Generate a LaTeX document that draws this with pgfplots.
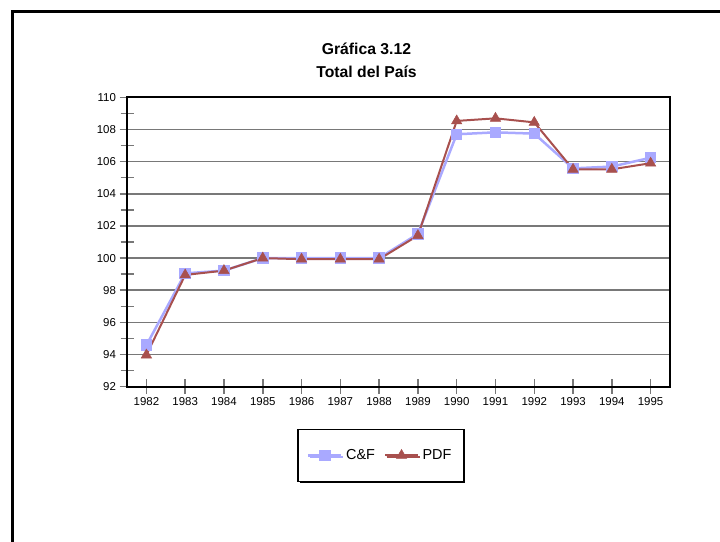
\documentclass[border=0pt]{standalone}
\usepackage{fontspec}
\setmainfont{Liberation Sans}
\usepackage{pgfplots}
\pgfplotsset{compat=1.18}
\usetikzlibrary{shadows}
\definecolor{cfcol}{RGB}{169,169,255}
\definecolor{pdfcol}{RGB}{168,80,78}
\definecolor{gridgray}{RGB}{120,120,120}
\begin{document}
\begin{tikzpicture}[x=1bp,y=1bp]
\useasboundingbox (0,0) rectangle (720,542);
\draw[line width=3bp,black] (12.5,-5) -- (12.5,530.5) -- (730,530.5);
\node[anchor=base,font=\fontsize{15.8}{18}\selectfont\bfseries] at (366.5,487) {Gráfica 3.12};
\node[anchor=base,font=\fontsize{15.8}{18}\selectfont\bfseries] at (366.5,464.3) {Total del País};
\begin{axis}[
  at={(127bp,155.3bp)}, anchor=south west,
  scale only axis, width=543bp, height=289.4bp,
  xmin=-0.5, xmax=13.5, ymin=92, ymax=110,
  xtick={0,1,...,13},
  xticklabels={1982,1983,1984,1985,1986,1987,1988,1989,1990,1991,1992,1993,1994,1995},
  ytick={92,94,...,110},
  minor y tick num=1,
  tick pos=left,
  ymajorgrids,
  major grid style={gridgray, line width=1.6bp},
  tick align=center,
  major tick length=15bp, minor tick length=13bp,
  tick style={gridgray, line width=1.5bp},
  axis line style={black, line width=1.8bp},
  ticklabel style={font=\fontsize{11.5}{13}\selectfont},
  /pgf/number format/assume math mode=true,
  /pgf/number format/1000 sep={},
  legend columns=2,
  legend style={at={(0.4678,-0.2377)}, anchor=center,
    draw=black, line width=1.3bp, fill=white,
    drop shadow={shadow xshift=1.5bp, shadow yshift=-1.5bp, opacity=1, fill=black},
    inner xsep=9bp, inner ysep=17bp,
    font=\fontsize{14.5}{16}\selectfont,
    nodes={inner sep=3.5bp},
    /tikz/every even column/.append style={column sep=5.5bp}},
  legend image code/.code={\draw[mark repeat=2,mark phase=2] plot coordinates {(0bp,0bp)(16.5bp,0bp)(33bp,0bp)};},
]
\addplot[cfcol, line width=2.5bp, mark=square*, mark size=4.5bp, mark options={solid,fill=cfcol,draw=cfcol}] coordinates {
(0,94.58) (1,99.05) (2,99.22) (3,100.0) (4,100.0) (5,100.0) (6,100.0) (7,101.5) (8,107.7) (9,107.82) (10,107.74) (11,105.58) (12,105.69) (13,106.24)};
\addlegendentry{C\&F}
\addplot[pdfcol, line width=2bp, mark=triangle*, mark size=6bp, mark options={solid,fill=pdfcol,draw=pdfcol,line width=0.5bp}] coordinates {
(0,93.97) (1,98.95) (2,99.22) (3,100.0) (4,99.93) (5,99.93) (6,99.93) (7,101.4) (8,108.53) (9,108.69) (10,108.44) (11,105.52) (12,105.52) (13,105.9)};
\addlegendentry{PDF}
\end{axis}
\end{tikzpicture}
\end{document}
